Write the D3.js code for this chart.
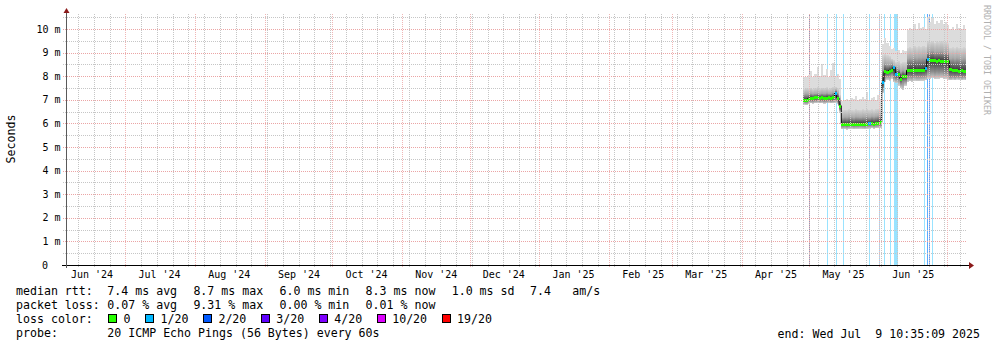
<!DOCTYPE html>
<html>
<head>
<meta charset="utf-8">
<style>
  body { margin: 0; background: #fff; }
  svg { display: block; }
  text { font-family: "DejaVu Sans Mono", monospace; white-space: pre; }
</style>
</head>
<body>
<svg width="997" height="347"></svg>
<script src="https://cdn.jsdelivr.net/npm/d3@7"></script>
<script>
// time range of the graph
var endTime = "2025-07-09 10:35:09";
var spanDays = 400;

// one value per day, first day 2025-04-28 (values in ms)
var firstDay = "2025-04-28";
var median = [
  7.00, 6.98, 7.05, 7.08, 7.06, 7.10, 7.12, 7.08, 7.10, 7.07, 7.09, 7.11, 7.08, 7.10, 7.28, 7.08, 6.75,
  5.97, 5.98, 5.96, 5.98, 5.99, 5.97, 5.98, 5.98, 5.99, 5.98, 5.97, 5.99, 6.00, 6.02, 5.99, 6.01, 6.03, 6.04,
  7.75, 8.20, 8.18, 8.24, 8.25, 8.38, 8.08, 8.10, 7.90, 8.00, 8.00,
  8.25, 8.27, 8.26, 8.28, 8.25, 8.27, 8.26, 8.28, 8.33,
  8.72, 8.68, 8.70, 8.67, 8.66, 8.68, 8.65, 8.66, 8.64, 8.66,
  8.30, 8.27, 8.25, 8.26, 8.24, 8.25, 8.23, 8.24
];
var pingMax = [
  7.95, 7.98, 8.05, 8.20, 7.96, 8.10, 8.38, 8.00, 8.50, 8.05, 8.30, 7.98, 8.25, 8.56, 8.00, 8.10, 7.90,
  6.95, 7.00, 7.05, 6.98, 7.08, 7.02, 7.15, 7.00, 7.05, 7.10, 7.03, 7.32, 7.00, 7.06, 7.12, 7.00, 7.20, 7.05,
  9.35, 9.60, 9.40, 9.30, 9.15, 9.20, 9.05, 9.10, 9.00, 9.10, 9.05,
  9.95, 10.05, 10.00, 10.20, 9.98, 10.24, 10.05, 10.10, 10.00,
  10.50, 10.30, 10.45, 10.20, 10.35, 10.25, 10.40, 10.20, 10.30, 10.15,
  10.00, 10.10, 9.95, 10.20, 10.05, 9.98, 10.15, 10.00
];
var pingQ90 = [
  7.45, 7.50, 7.48, 7.52, 7.46, 7.50, 7.55, 7.48, 7.52, 7.50, 7.53, 7.47, 7.50, 7.55, 7.55, 7.48, 7.20,
  6.55, 6.58, 6.56, 6.60, 6.57, 6.55, 6.60, 6.58, 6.56, 6.60, 6.57, 6.62, 6.58, 6.60, 6.56, 6.60, 6.62, 6.60,
  8.90, 8.95, 8.90, 8.85, 8.75, 8.70, 8.60, 8.65, 8.55, 8.60, 8.60,
  9.20, 9.25, 9.20, 9.30, 9.22, 9.28, 9.25, 9.30, 9.25,
  9.50, 9.45, 9.50, 9.42, 9.48, 9.45, 9.50, 9.44, 9.46, 9.40,
  9.20, 9.22, 9.18, 9.25, 9.20, 9.18, 9.22, 9.20
];
var pingQ75 = [
  7.22, 7.25, 7.24, 7.27, 7.25, 7.26, 7.28, 7.25, 7.27, 7.26, 7.28, 7.25, 7.26, 7.30, 7.40, 7.25, 7.00,
  6.25, 6.27, 6.26, 6.28, 6.27, 6.25, 6.28, 6.27, 6.26, 6.28, 6.27, 6.30, 6.27, 6.30, 6.28, 6.30, 6.32, 6.30,
  8.30, 8.55, 8.50, 8.50, 8.55, 8.40, 8.35, 8.30, 8.20, 8.25, 8.20,
  8.75, 8.78, 8.76, 8.80, 8.77, 8.80, 8.78, 8.80, 8.80,
  9.05, 9.05, 9.08, 9.02, 9.05, 9.04, 9.06, 9.02, 9.04, 9.00,
  8.75, 8.78, 8.74, 8.78, 8.76, 8.74, 8.77, 8.75
];
var pingQ25 = [
  6.92, 6.90, 6.95, 6.96, 6.95, 6.97, 6.98, 6.96, 6.97, 6.95, 6.96, 6.98, 6.96, 6.97, 7.00, 6.95, 6.60,
  5.88, 5.89, 5.87, 5.89, 5.90, 5.88, 5.89, 5.89, 5.90, 5.89, 5.88, 5.90, 5.91, 5.92, 5.90, 5.92, 5.93, 5.94,
  7.50, 8.00, 8.02, 8.05, 8.10, 7.95, 7.90, 7.88, 7.70, 7.78, 7.80,
  7.98, 8.00, 7.98, 8.02, 8.00, 8.00, 8.00, 8.02, 8.05,
  8.20, 8.18, 8.20, 8.17, 8.20, 8.18, 8.20, 8.17, 8.18, 8.15,
  7.98, 8.00, 7.98, 8.00, 7.99, 7.98, 8.00, 7.98
];
var pingMin = [
  6.80, 6.78, 6.83, 6.85, 6.84, 6.86, 6.87, 6.85, 6.86, 6.84, 6.85, 6.87, 6.85, 6.86, 6.88, 6.84, 6.50,
  5.75, 5.76, 5.74, 5.76, 5.77, 5.75, 5.76, 5.76, 5.77, 5.76, 5.75, 5.77, 5.78, 5.80, 5.77, 5.79, 5.80, 5.81,
  7.30, 7.75, 7.85, 7.80, 7.90, 7.75, 7.70, 7.60, 7.50, 7.40, 7.60,
  7.75, 7.78, 7.76, 7.80, 7.78, 7.78, 7.80, 7.80, 7.82,
  7.90, 7.88, 7.92, 7.88, 7.90, 7.90, 7.92, 7.88, 7.90, 7.85,
  7.82, 7.85, 7.82, 7.86, 7.84, 7.82, 7.85, 7.83
];
// days whose median had 1/20 loss
var medianLossDays = [14, 29, 35, 40, 41, 54, 55];

// packet loss events (vertical bars)
var lossEvents = [
  ["2025-05-08 16:00", "1/20"], ["2025-05-12 16:00", "1/20"], ["2025-05-16 05:00", "1/20"],
  ["2025-05-27 18:00", "1/20"], ["2025-06-01 03:00", "1/20"], ["2025-06-03 08:00", "1/20"],
  ["2025-06-06 00:00", "1/20"], ["2025-06-07 18:00", "1/20"], ["2025-06-08 05:00", "1/20"],
  ["2025-06-08 16:00", "1/20"], ["2025-06-09 03:00", "1/20"], ["2025-06-21 05:00", "1/20"],
  ["2025-06-22 03:00", "1/20"], ["2025-06-22 13:00", "2/20"], ["2025-06-23 00:00", "2/20"],
  ["2025-06-23 10:30", "2/20"], ["2025-06-24 08:00", "1/20"]
];
var markTimes = ["2025-05-01 00:00"];

// legend
var lossLabels = ["0", "1/20", "2/20", "3/20", "4/20", "10/20", "19/20"];
var lossColors = ["#26ff00", "#00b8ff", "#0059ff", "#5e00ff", "#7e00ff", "#dd00ff", "#ff0000"];
var rttStats = [7.4, 8.7, 6.0, 8.3];
var statNames = ["avg", "max", "min", "now"];
var rttSd = 1.0, rttAmps = 7.4;
var lossStats = [0.07, 9.31, 0.00, 0.01];
var probeText = "20 ICMP Echo Pings (56 Bytes) every 60s";
var endText = "end: Wed Jul\u00a0\u00a09 10:35:09 2025";

var yTicks = [0, 1, 2, 3, 4, 5, 6, 7, 8, 9, 10];

var svg = d3.select("svg");
var parse = d3.timeParse("%Y-%m-%d %H:%M");
var end = d3.timeParse("%Y-%m-%d %H:%M:%S")(endTime);
var start = d3.timeDay.offset(end, -spanDays);
var day0 = d3.timeParse("%Y-%m-%d")(firstDay);

var plotTop = 14, plotBottom = 265, plotLeft = 66, plotRight = 966;
var x = d3.scaleTime().domain([start, end]).range([plotLeft, plotRight]);
var y = d3.scaleLinear().domain([0, 10]).range([265, 29]);

svg.append("rect").attr("width", 997).attr("height", 347).attr("fill", "#fff");

var defs = svg.append("defs");
function grad(id, c0, c1) {
  var g = defs.append("linearGradient").attr("id", id)
    .attr("x1", 0).attr("y1", 0).attr("x2", 0).attr("y2", 1);
  g.append("stop").attr("offset", 0).attr("stop-color", c0);
  g.append("stop").attr("offset", 1).attr("stop-color", c1);
}
grad("g1", "#d4d4d4", "#a9a9a9");
grad("g2", "#a9a9a9", "#3a3a3a");
grad("g3", "#3a3a3a", "#8c8c8c");
grad("g4", "#8c8c8c", "#d0d0d0");

// loss bars
var lossColorOf = {};
lossLabels.forEach(function(l, i) { lossColorOf[l] = lossColors[i]; });
svg.append("g").selectAll("line").data(lossEvents).enter().append("line")
  .attr("x1", function(d) { return Math.floor(x(parse(d[0]))) + 0.5; })
  .attr("x2", function(d) { return Math.floor(x(parse(d[0]))) + 0.5; })
  .attr("y1", plotTop).attr("y2", plotBottom)
  .attr("stroke", function(d) { return lossColorOf[d[1]]; })
  .attr("stroke-opacity", 0.4);
svg.append("g").selectAll("line").data(markTimes).enter().append("line")
  .attr("x1", function(d) { return Math.floor(x(parse(d))) + 0.5; })
  .attr("x2", function(d) { return Math.floor(x(parse(d))) + 0.5; })
  .attr("y1", plotTop).attr("y2", plotBottom)
  .attr("stroke", "#8e9dbb");

// smoke
var days = median.map(function(m, i) {
  var t0 = d3.timeDay.offset(day0, i), t1 = d3.timeDay.offset(day0, i + 1);
  if (t1 > end) t1 = end;
  return {i: i, x0: x(t0), x1: x(t1), med: m, max: pingMax[i], q90: pingQ90[i],
          q75: pingQ75[i], q25: pingQ25[i], min: pingMin[i]};
});
var smoke = svg.append("g").attr("shape-rendering", "crispEdges");
var bands = [["max", "q90", "#dcdcdc"], ["q90", "q75", "url(#g1)"], ["q75", "med", "url(#g2)"],
             ["med", "q25", "url(#g3)"], ["q25", "min", "url(#g4)"]];
bands.forEach(function(b) {
  smoke.append("g").selectAll("rect").data(days).enter().append("rect")
    .attr("x", function(d) { return d.x0; })
    .attr("width", function(d) { return d.x1 - d.x0; })
    .attr("y", function(d) { return y(d[b[0]]); })
    .attr("height", function(d) { return Math.max(0.5, y(d[b[1]]) - y(d[b[0]])); })
    .attr("fill", b[2]);
});

// median
var stepPts = days.map(function(d) { return [d.x0, y(d.med)]; });
stepPts.push([days[days.length - 1].x1, y(days[days.length - 1].med)]);
svg.append("path")
  .attr("d", d3.line().curve(d3.curveStepAfter)(stepPts))
  .attr("fill", "none").attr("stroke", "#000").attr("stroke-width", 1);
svg.append("g").attr("shape-rendering", "crispEdges").selectAll("rect").data(days).enter().append("rect")
  .attr("x", function(d) { return d.x0; })
  .attr("width", function(d) { return d.x1 - d.x0; })
  .attr("y", function(d) { return Math.round(y(d.med)) - 1; })
  .attr("height", 3)
  .attr("fill", function(d) { return medianLossDays.indexOf(d.i) >= 0 ? lossColors[1] : lossColors[0]; });

// grid on top
var grid = svg.append("g").attr("shape-rendering", "crispEdges");
var minorY = yTicks.map(function(v) { return v + 0.5; });
grid.selectAll(".hmin").data(minorY).enter().append("line")
  .attr("x1", 63).attr("x2", plotRight)
  .attr("y1", function(d) { return Math.round(y(d)) + 0.5; })
  .attr("y2", function(d) { return Math.round(y(d)) + 0.5; })
  .attr("stroke", "#c6c6c6").attr("stroke-dasharray", "1,1");
var weeks = d3.timeMonday.range(start, end);
grid.selectAll(".vmin").data(weeks).enter().append("line")
  .attr("x1", function(d) { return Math.floor(x(d)) + 0.5; })
  .attr("x2", function(d) { return Math.floor(x(d)) + 0.5; })
  .attr("y1", plotTop).attr("y2", 268)
  .attr("stroke", "#c6c6c6").attr("stroke-dasharray", "1,1");
grid.selectAll(".hmaj").data(yTicks.slice(1)).enter().append("line")
  .attr("x1", 63).attr("x2", plotRight)
  .attr("y1", function(d) { return Math.round(y(d)) + 0.5; })
  .attr("y2", function(d) { return Math.round(y(d)) + 0.5; })
  .attr("stroke", "#eba5a5").attr("stroke-dasharray", "1,1");
var months = d3.timeMonth.range(start, end);
grid.selectAll(".vmaj").data(months).enter().append("line")
  .attr("x1", function(d) { return Math.floor(x(d)) + 0.5; })
  .attr("x2", function(d) { return Math.floor(x(d)) + 0.5; })
  .attr("y1", plotTop).attr("y2", 268)
  .attr("stroke", "#f0b6b6").attr("stroke-dasharray", "1,1");

// axes
svg.append("line").attr("x1", 62).attr("x2", 969).attr("y1", 265.5).attr("y2", 265.5)
  .attr("stroke", "#000").attr("shape-rendering", "crispEdges");
svg.append("line").attr("x1", 66.5).attr("x2", 66.5).attr("y1", 268).attr("y2", 12)
  .attr("stroke", "#5a5a5a").attr("shape-rendering", "crispEdges");
svg.append("path").attr("d", "M969,262L974,265.5L969,269Z").attr("fill", "#8b1a1a");
svg.append("path").attr("d", "M63.5,13L66.5,8L69.5,13Z").attr("fill", "#8b1a1a");

// y labels
svg.append("g").selectAll("text").data(yTicks).enter().append("text")
  .attr("x", function(d) { return d === 0 ? 48 : 60.5; })
  .attr("y", function(d) { return y(d); })
  .attr("dy", "0.35em")
  .attr("text-anchor", "end")
  .attr("font-size", "10px")
  .text(function(d) { return d === 0 ? "0" : d + " m"; });

// x labels, centred half a month after the month start
var fmt = d3.timeFormat("%b '%y");
var labelMonths = d3.timeMonth.range(d3.timeMonth.floor(start), end).filter(function(m) {
  return d3.timeDay.offset(m, 15) < end;
});
svg.append("g").selectAll("text").data(labelMonths).enter().append("text")
  .attr("x", function(d) { return x(d3.timeDay.offset(d, 15)); })
  .attr("y", 278)
  .attr("text-anchor", "middle")
  .attr("font-size", "10px")
  .text(function(d) { return fmt(d); });

// titles
svg.append("text").attr("transform", "translate(15,139) rotate(-90)")
  .attr("text-anchor", "middle").attr("font-size", "11.6px").text("Seconds");
svg.append("text").attr("transform", "translate(984,5) rotate(90)")
  .attr("font-size", "8.3px").attr("fill", "#b0b0b0").text("RRDTOOL / TOBI OETIKER");

// legend
var lg = svg.append("g").attr("font-size", "11.6px");
function item(tx, ty, s) { lg.append("text").attr("x", tx).attr("y", ty).text(s); }
item(16, 295, "median rtt:");
rttStats.forEach(function(v, i) { item(107.3 + 86.1 * i, 295, v.toFixed(1) + " ms " + statNames[i]); });
item(107.3 + 86.1 * 4, 295, rttSd.toFixed(1) + " ms sd");
item(530, 295, rttAmps.toFixed(1));
item(572.3, 295, "am/s");
item(16, 309, "packet loss:");
lossStats.forEach(function(v, i) { item(107.3 + 86.1 * i, 309, v.toFixed(2) + " % " + statNames[i]); });
item(16, 323, "loss color:");
var bx = 108;
lossLabels.forEach(function(l, i) {
  lg.append("rect").attr("x", bx + 0.5).attr("y", 314.5).attr("width", 8).attr("height", 8)
    .attr("fill", lossColors[i]).attr("stroke", "#000").attr("shape-rendering", "crispEdges");
  var t = lg.append("text").attr("x", bx + 15.5).attr("y", 323).text(l);
  bx = bx + 15.5 + t.node().getComputedTextLength() + 14.5;
});
item(16, 337, "probe:");
item(107.3, 337, probeText);
lg.append("text").attr("x", 980).attr("y", 337.5).attr("text-anchor", "end").text(endText);
</script>
</body>
</html>
